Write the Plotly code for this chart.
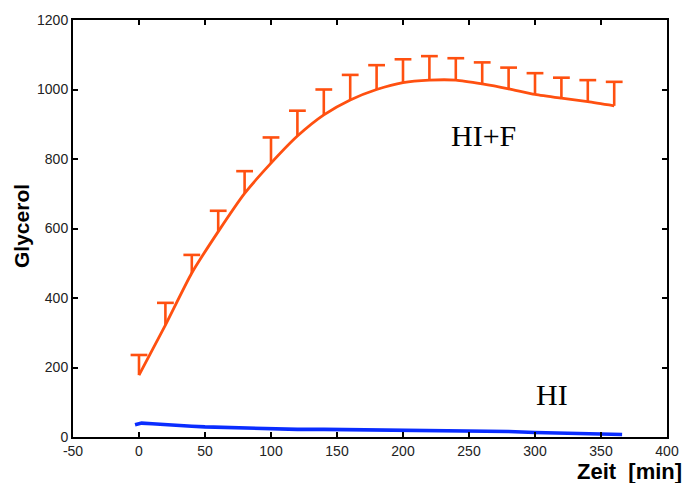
import plotly.graph_objects as go

# --- data ---
time_hif = [0, 20, 40, 60, 80, 100, 120, 140, 160, 180, 200, 220, 240, 260, 280, 300, 320, 340, 360]
glycerol_hif = [178, 322, 472, 591, 701, 788, 866, 927, 970, 1000, 1020, 1027, 1027, 1016, 1002, 986, 975, 965, 953]
glycerol_hif_err = [58, 64, 52, 60, 64, 74, 73, 73, 72, 70, 67, 69, 63, 62, 61, 61, 59, 62, 69]

time_hi = [-3, 2, 10, 20, 30, 40, 50, 60, 80, 100, 120, 140, 160, 180, 200, 220, 240, 260, 280, 300, 320, 340, 360, 366]
glycerol_hi = [35, 40, 38, 35, 33, 31, 29, 28, 25, 23, 22, 22, 21, 20, 19, 19, 18, 18, 16, 13, 11, 10, 8, 7]

x_ticks = [-50, 0, 50, 100, 150, 200, 250, 300, 350, 400]
y_ticks = [0, 200, 400, 600, 800, 1000, 1200]

ORANGE = "#ff5010"
BLUE = "#0a2dff"

# upper-only error bars: stems (from mean to mean+err) and caps at mean+err
upper = [m + e for m, e in zip(glycerol_hif, glycerol_hif_err)]
stem_x, stem_y = [], []
for t, m, u in zip(time_hif, glycerol_hif, upper):
    stem_x += [t, t, None]
    stem_y += [m, u, None]

fig = go.Figure()
fig.add_trace(go.Scatter(
    x=stem_x, y=stem_y, mode="lines",
    line=dict(color=ORANGE, width=2.6),
    showlegend=False, hoverinfo="skip",
))
fig.add_trace(go.Scatter(
    x=time_hif, y=upper, mode="markers",
    marker=dict(symbol="line-ew", size=12, line=dict(color=ORANGE, width=2.6)),
    showlegend=False, hoverinfo="skip",
))
fig.add_trace(go.Scatter(
    x=time_hif, y=glycerol_hif, mode="lines",
    line=dict(color=ORANGE, width=2.8, shape="spline", smoothing=0.6),
    showlegend=False, hoverinfo="skip",
))
fig.add_trace(go.Scatter(
    x=time_hi, y=glycerol_hi, mode="lines",
    line=dict(color=BLUE, width=3.6),
    showlegend=False, hoverinfo="skip",
))

axis_common = dict(
    showgrid=False, zeroline=False, showline=True, linecolor="black", linewidth=2,
    mirror="ticks", ticks="inside", ticklen=5, tickwidth=2, tickcolor="black",
    tickfont=dict(family="Liberation Sans, Arial", size=14, color="#222222"),
)
fig.update_xaxes(range=[-50, 400], tickvals=x_ticks, ticktext=[str(v) for v in x_ticks], **axis_common)
fig.update_yaxes(range=[0, 1200], tickvals=y_ticks, ticktext=[str(v) for v in y_ticks], **axis_common)

fig.add_annotation(text="Glycerol", xref="paper", yref="paper", x=0, y=0.506,
                   xanchor="center", yanchor="middle", xshift=-51, textangle=-90,
                   showarrow=False,
                   font=dict(family="Liberation Sans, Arial", size=21, color="black", weight="bold"))
fig.add_annotation(text="Zeit  [min]", xref="paper", yref="paper", x=1, y=0,
                   xanchor="right", yanchor="middle", xshift=17, yshift=-34,
                   showarrow=False,
                   font=dict(family="Liberation Sans, Arial", size=22, color="black", weight="bold"))
fig.add_annotation(text="HI+F", x=261, y=868, xref="x", yref="y", showarrow=False,
                   font=dict(family="Liberation Serif, Times New Roman", size=30, color="black"))
fig.add_annotation(text="HI", x=313, y=121, xref="x", yref="y", showarrow=False,
                   font=dict(family="Liberation Serif, Times New Roman", size=30, color="black"))

fig.update_layout(
    width=691, height=483,
    margin=dict(l=73, r=19, t=20, b=46),
    paper_bgcolor="white", plot_bgcolor="white",
)

fig.write_html("out.html")
